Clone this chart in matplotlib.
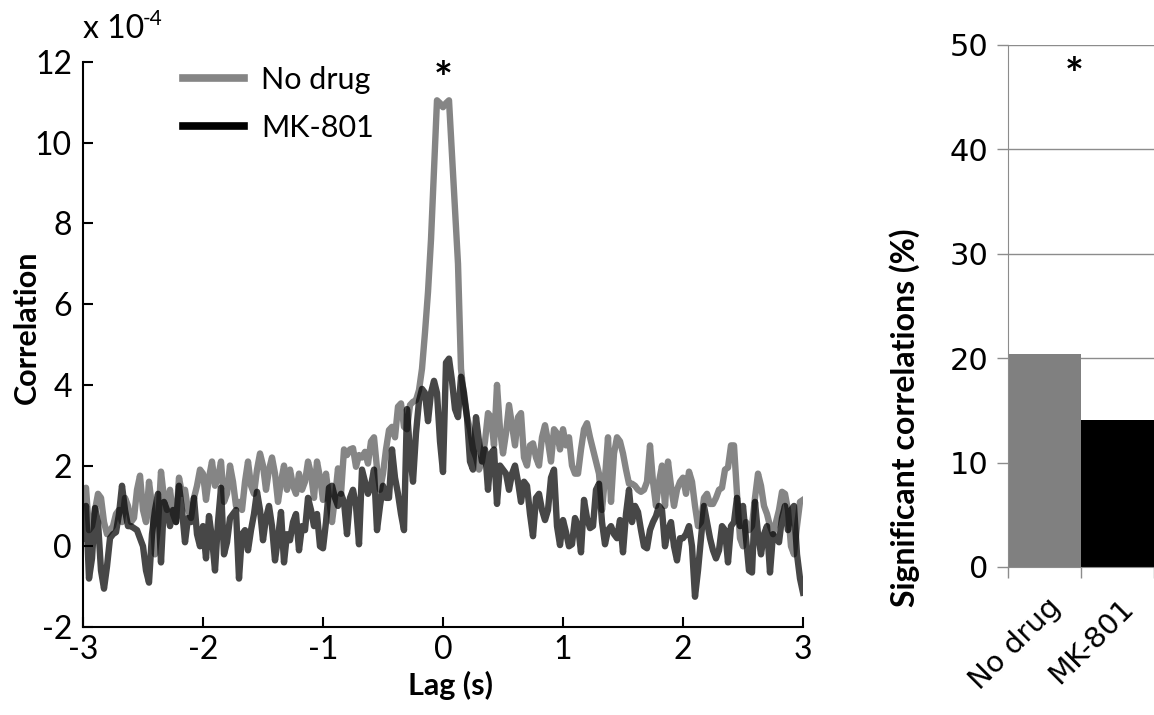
import matplotlib
matplotlib.use("Agg")
import matplotlib.pyplot as plt
import matplotlib.transforms as mtransforms
from matplotlib.lines import Line2D
import numpy as np

plt.rcParams["font.family"] = ["Lato", "DejaVu Sans"]
plt.rcParams["axes.unicode_minus"] = False

# lag axis: 25 ms bins from -3 s to 3 s
lag = np.arange(-120, 121) * 0.025

# correlation (x 1e-4)
no_drug = [
    1.1, 1.45, 0.4, 0.5, 0.9, 1.3, 1.2, 0.6, 0.3, 0.4,
    0.5, 0.8, 0.9, 0.6, 1.2, 1.0, 0.6, 0.7, 1.4, 1.75,
    0.9, 0.6, 1.6, 1.0, -0.2, 0.5, 1.85, 1.2, 0.9, 1.4,
    0.8, 0.6, 1.7, 1.3, 1.4, 0.9, 0.7, 1.2, 1.5, 1.9,
    1.8, 1.15, 1.7, 2.1, 1.5, 1.7, 2.1, 1.1, 1.3, 2.0,
    1.6, 1.0, 1.1, 0.9, 1.6, 2.1, 1.5, 1.3, 1.9, 2.3,
    2.0, 1.4, 1.9, 2.2, 1.8, 1.1, 1.6, 2.0, 1.4, 1.9,
    1.5, 1.3, 1.8, 1.4, 1.6, 2.1, 1.8, 1.2, 2.1, 1.7,
    1.15, 1.8, 1.2, 0.6, 1.2, 1.93, 1.3, 2.4, 2.26, 2.4,
    2.43, 1.97, 2.26, 2.2, 2.34, 2.05, 2.6, 2.7, 1.93, 1.4,
    1.8, 2.4, 2.88, 2.96, 2.7, 3.46, 3.54, 2.96, 2.9, 3.5,
    3.58, 3.62, 3.87, 4.4, 5.3, 6.3, 7.6, 9.3, 11.05, 10.98,
    10.88, 10.98, 11.05, 9.7, 8.3, 7.0, 4.4, 3.7, 3.2, 2.9,
    2.4, 2.2, 1.9, 2.1, 2.6, 3.3, 3.2, 2.5, 4.0, 2.9,
    2.3, 2.8, 3.5, 3.0, 2.5, 3.2, 3.3, 2.2, 2.0, 2.5,
    2.55, 2.2, 2.0, 2.7, 3.0, 2.6, 2.1, 2.9, 2.8, 2.4,
    2.9, 2.5, 2.7, 2.0, 1.8, 1.8, 2.4, 2.9, 3.05, 2.7,
    2.4, 2.1, 1.8, 0.9, 1.7, 2.7, 1.1, 2.3, 2.7, 2.6,
    2.3, 1.9, 1.55, 1.55, 1.5, 1.4, 1.35, 1.4, 1.6, 2.5,
    1.6, 1.0, 1.6, 2.0, 1.0, 2.1, 1.5, 1.0, 1.4, 1.6,
    1.7, 1.3, 1.85, 1.6, 1.0, 0.5, 0.6, 1.2, 1.3, 1.05,
    1.05, 1.2, 1.4, 1.45, 1.9, 1.95, 2.5, 2.5, 1.3, 0.2,
    0.0, 0.6, 0.4, 0.5, 1.2, 1.8, 1.5, 1.0, 0.8, 0.5,
    0.3, 0.6, 0.9, 1.35, 1.3, 0.9, 0.0, -0.2, 0.5, 1.1,
    1.15]

mk801 = [
    0.2, 1.0, -0.8, -0.3, 0.95, 0.6, -0.6, -1.05, -0.5, 0.2,
    0.3, 0.35, 0.8, 1.5, 0.9, 0.5, 0.5, 0.45, 0.4, 0.2,
    0.0, -0.6, -0.9, 0.3, 0.9, 1.3, -0.4, 1.1, 0.9, 0.5,
    0.9, 0.6, 1.5, 0.9, 0.1, 0.7, 0.6, 1.2, 0.3, 0.0,
    0.5, -0.3, 0.75, 0.2, -0.6, 0.6, 1.45, -0.2, 0.1, 0.7,
    0.8, 0.9, -0.8, 0.3, 0.4, -0.1, 0.4, 0.8, 1.35, 0.9,
    0.15, 0.7, 1.0, 0.5, -0.35, 0.2, 0.85, -0.4, 0.3, 0.15,
    0.6, 0.8, -0.1, 0.5, 0.4, 1.2, 0.9, 0.5, 0.8, 0.0,
    -0.05, 0.6, 1.45, 1.5, 1.2, 1.0, 1.3, 1.1, 0.3, 1.2,
    1.4, 1.0, 0.05, 1.9, 1.6, 1.3, 1.5, 1.9, 0.4, 1.0,
    1.5, 1.2, 1.2, 2.4, 1.7, 1.3, 0.8, 0.4, 3.4, 2.3,
    1.6, 2.8, 3.6, 3.9, 3.8, 3.1, 3.8, 4.1, 3.8, 2.6,
    1.84, 4.55, 4.65, 4.1, 3.4, 3.2, 4.2, 3.8, 3.2, 2.1,
    1.9, 3.2, 2.6, 2.1, 2.4, 1.4, 2.3, 2.4, 1.05, 2.0,
    1.9, 1.8, 1.4, 1.8, 2.0, 1.6, 1.1, 1.6, 1.5, 0.8,
    0.25, 1.2, 1.3, 0.9, 0.65, 0.9, 1.7, 1.9, 0.5, 0.03,
    0.65, 0.35, 0.0, 0.05, 0.7, 0.5, -0.15, 1.15, 0.7, 0.45,
    0.5, 1.4, 1.55, 0.6, 0.05, 0.4, 0.5, 0.3, 0.2, 0.65,
    -0.15, 0.8, 1.4, 0.6, 1.0, 0.85, 0.4, 0.0, -0.05, 0.4,
    0.6, 0.75, 1.0, 0.9, 0.0, 0.4, 0.6, 0.0, -0.35, 0.2,
    0.2, 0.3, 0.5, 0.0, -1.25, -0.6, 0.2, 1.0, 0.6, 0.2,
    -0.1, -0.3, -0.1, 0.5, 0.4, -0.4, 0.5, 0.6, 1.2, 0.5,
    1.0, 0.2, -0.6, -0.65, 1.1, 0.3, -0.2, 0.3, 0.5, -0.65,
    0.3, 0.2, 0.1, 0.7, 1.0, 0.4, 0.9, 1.0, -0.2, -0.8,
    -1.15]

groups = ["No drug", "MK-801"]
sig_pct = [20.4, 14.1]
bar_colors = ["#808080", "#000000"]

W, H = 1154, 715
fig = plt.figure(figsize=(W / 100, H / 100), dpi=100)

# ---- left: cross-correlogram
ax = fig.add_axes([83 / W, 1 - 627 / H, 720 / W, 565 / H])
ax.plot(lag, no_drug, color="#858585", lw=4.6, solid_joinstyle="round")
ax.plot(lag, mk801, color="black", alpha=0.72, lw=4.6, solid_joinstyle="round")
ax.set_xlim(-3, 3)
ax.set_ylim(-2, 12)
ax.set_xticks(np.arange(-3, 4))
ax.set_xticklabels([str(v) for v in range(-3, 4)])
ax.set_yticks(np.arange(-2, 13, 2))
for s in ["top", "right"]:
    ax.spines[s].set_visible(False)
for s in ["left", "bottom"]:
    ax.spines[s].set_linewidth(1.5)
ax.tick_params(direction="in", length=7, width=1.5, labelsize=23)
ax.tick_params(axis="x", pad=6)
ax.tick_params(axis="y", pad=8)
ax.set_xlabel("Lag (s)", fontsize=22, fontweight="bold")
ax.xaxis.set_label_coords(0.51, -0.078)
ax.xaxis.label.set_va("top")
ax.set_ylabel("Correlation", fontsize=22, fontweight="bold")
ax.yaxis.set_label_coords(-0.058, 0.53)
fig.text(83 / W, 1 - 38 / H, "x 10", fontsize=23, va="baseline", ha="left")
fig.text(143 / W, 1 - 25 / H, "-4", fontsize=15, va="baseline", ha="left")
ax.text(0, 11.55, "*", ha="center", va="center", fontsize=32, fontweight="bold")

handles = [Line2D([], [], color="#858585", lw=5.5),
           Line2D([], [], color="black", lw=5.5)]
ax.legend(handles, groups, loc="upper left", frameon=False, fontsize=22,
          bbox_to_anchor=(183 / W, 1 - 66 / H), bbox_transform=fig.transFigure,
          borderpad=0, borderaxespad=0, handlelength=2.0, handletextpad=0.55,
          labelspacing=0.65)

# ---- right: percent significant correlations
ax2 = fig.add_axes([1008 / W, 1 - 567 / H, 146 / W, 522 / H])
ax2.bar([0.5, 1.5], sig_pct, width=1.0, color=bar_colors, zorder=2)
ax2.set_xlim(0, 2)
ax2.set_ylim(0, 50)
ax2.set_yticks(np.arange(0, 51, 10))
ax2.yaxis.grid(True, color="#8c8c8c", lw=1)
ax2.set_axisbelow(True)
for s in ["top", "right"]:
    ax2.spines[s].set_visible(False)
for s in ["left", "bottom"]:
    ax2.spines[s].set_color("#8c8c8c")
ax2.set_xticks([0, 1, 2])
ax2.set_xticklabels([])
ax2.set_xticks([0.5, 1.5], minor=True)
ax2.set_xticklabels(groups, minor=True, rotation=45, ha="right", va="center",
                    rotation_mode="anchor", fontsize=21,
                    family=["DejaVu Sans"])
ax2.tick_params(axis="x", which="minor", length=0, pad=26)
ax2.tick_params(axis="both", which="major", direction="out", length=8,
                color="#8c8c8c", width=1)
ax2.tick_params(axis="y", labelsize=22, pad=6)
for lab in ax2.get_yticklabels():
    lab.set_family(["DejaVu Sans"])
shift = mtransforms.ScaledTranslation(12 / 100, 0, fig.dpi_scale_trans)
for lab in ax2.get_xticklabels(minor=True):
    lab.set_transform(lab.get_transform() + shift)
ax2.set_ylabel("Significant correlations (%)", fontsize=23, fontweight="bold")
ax2.yaxis.set_label_coords(-0.6, 0.285)
ax2.text(0.9, 47.0, "*", ha="center", va="center", fontsize=32, fontweight="bold")

fig.savefig("out.png", dpi=100)
